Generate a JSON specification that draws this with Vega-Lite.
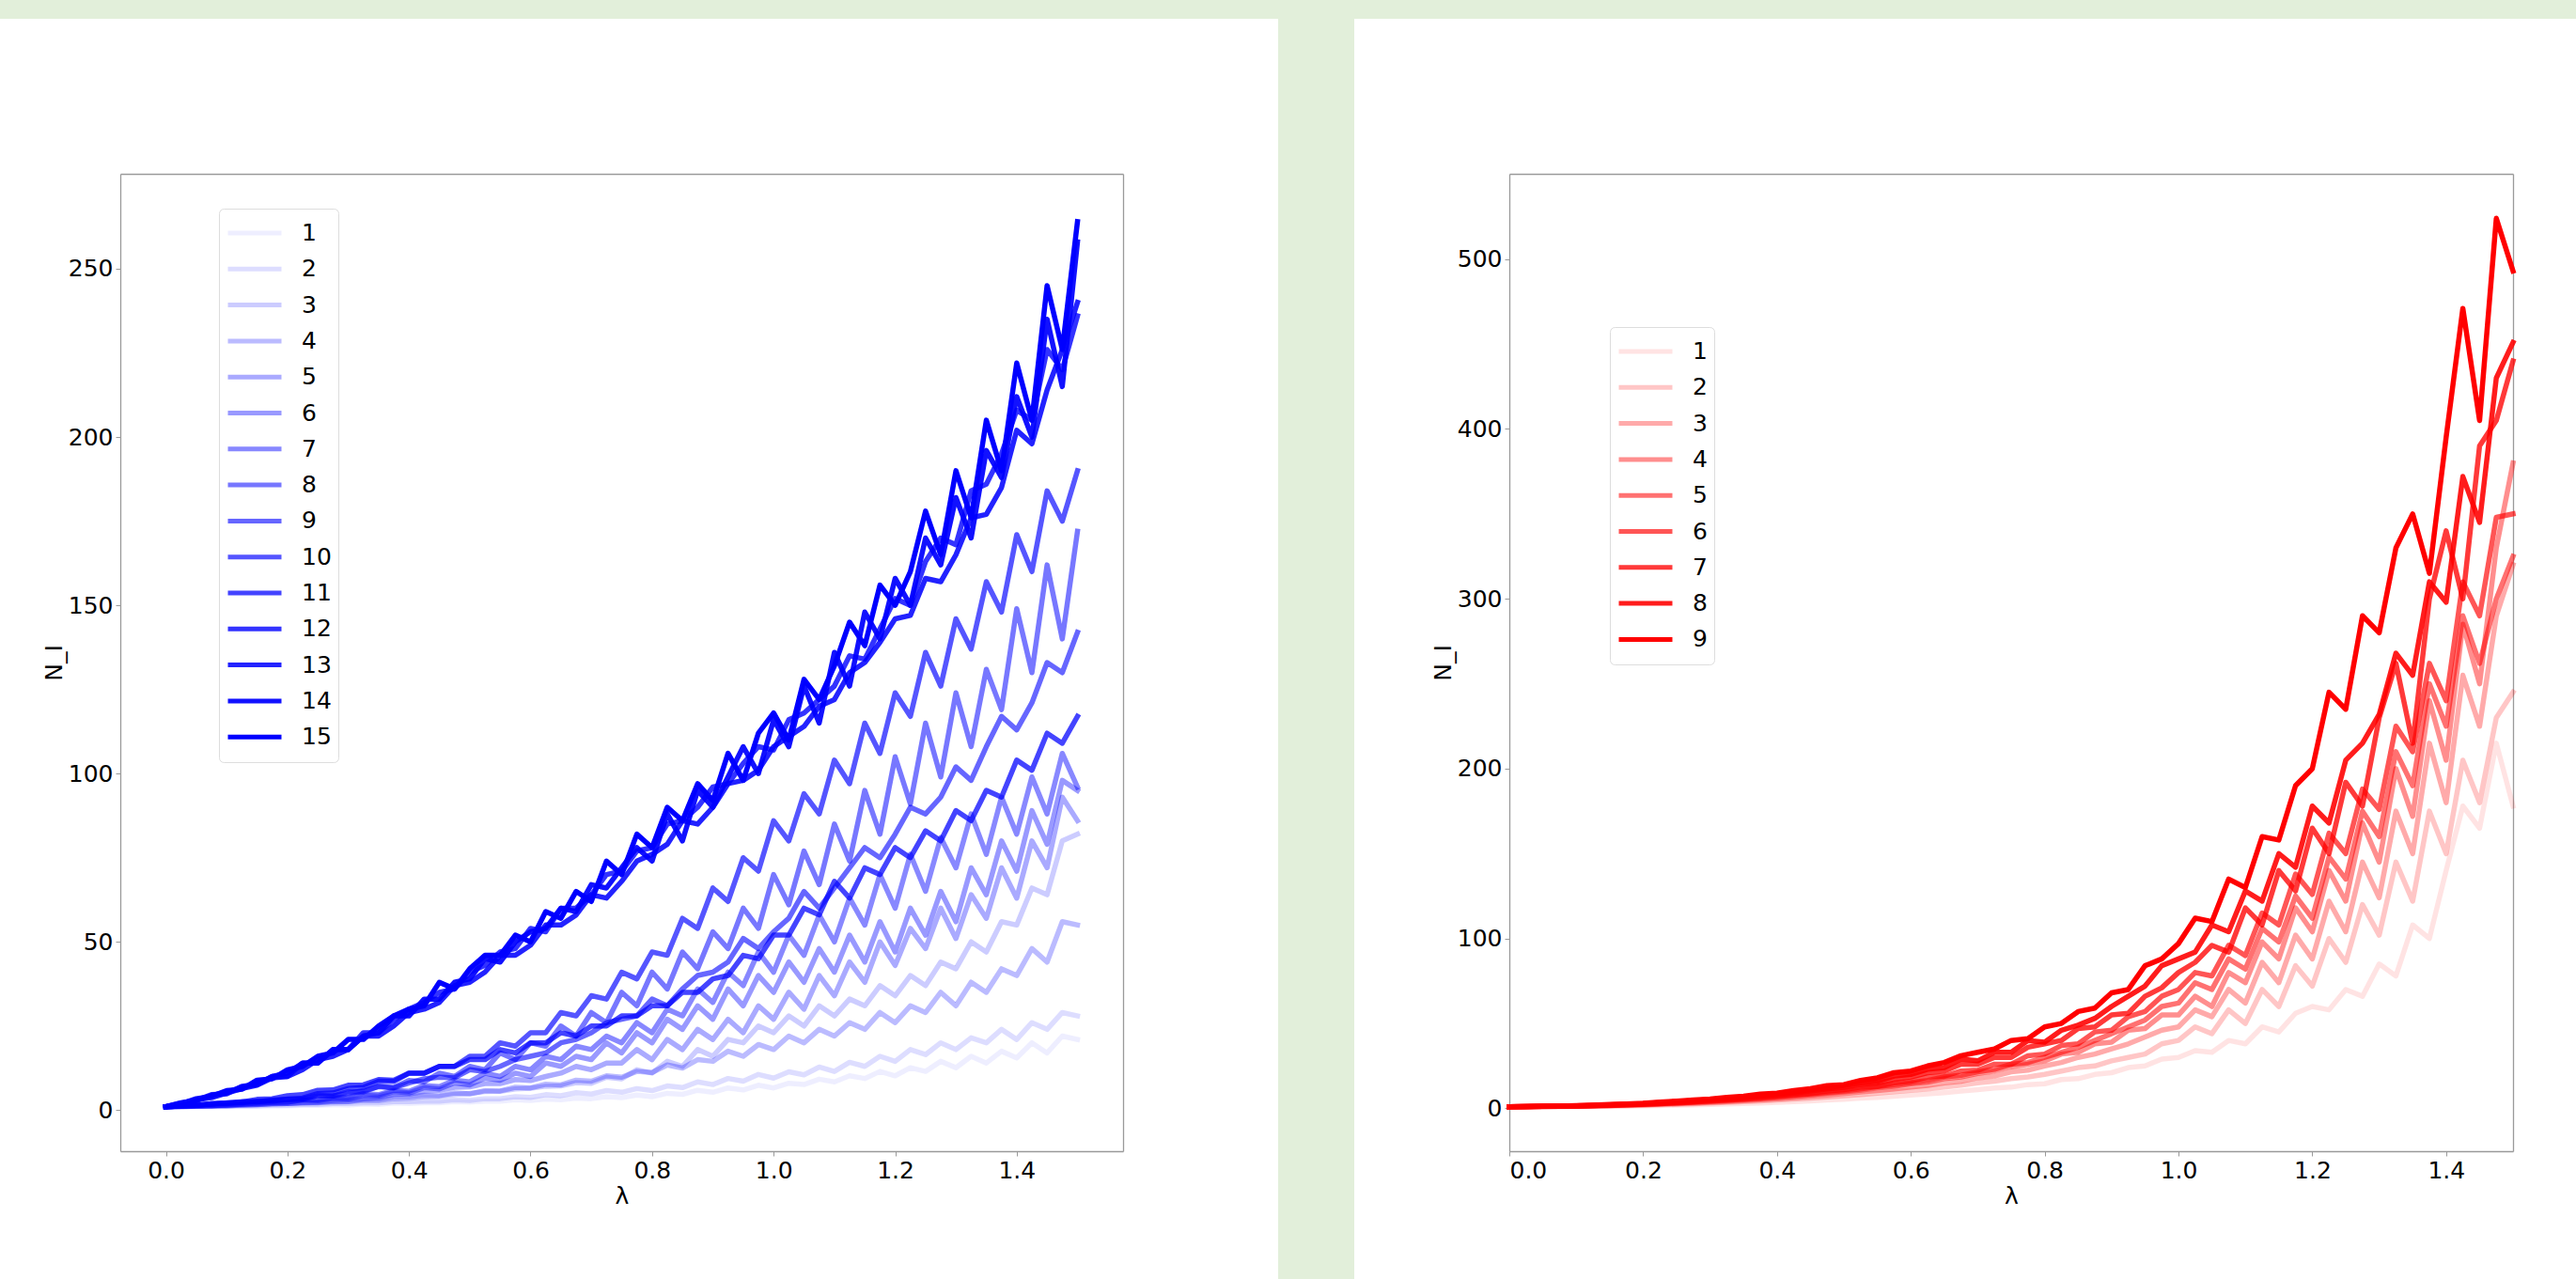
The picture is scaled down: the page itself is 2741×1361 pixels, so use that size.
{
"$schema":"https://vega.github.io/schema/vega-lite/v6.json",
"background":"#e2efda",
"autosize":{"type":"none"},
"padding":{"left":128,"top":185,"right":2613,"bottom":1176},
"spacing":411,
"bounds":"flush",
"config":{
"font":"DejaVu Sans",
"view":{"stroke":"#ffffff","strokeWidth":330,"fill":"#ffffff"},
"axis":{"labelFont":"DejaVu Sans","labelFontSize":25,"labelColor":"#000000","titleFont":"DejaVu Sans","titleFontSize":25,"titleFontWeight":"normal","titleColor":"#000000","domainColor":"#9a9a9a","domainWidth":1.3,"tickColor":"#9a9a9a","tickSize":5,"grid":false,"labelPadding":3,"titlePadding":2}
},
"datasets":{
"left":[
{"r":1,"x":0,"n":1},{"r":1,"x":0.025,"n":1},{"r":1,"x":0.05,"n":1},{"r":1,"x":0.075,"n":1.1},{"r":1,"x":0.1,"n":1.1},{"r":1,"x":0.125,"n":1.1},{"r":1,"x":0.15,"n":1.2},{"r":1,"x":0.175,"n":1.2},{"r":1,"x":0.2,"n":1.3},{"r":1,"x":0.225,"n":1.4},
{"r":1,"x":0.25,"n":1.4},{"r":1,"x":0.275,"n":1.6},{"r":1,"x":0.3,"n":1.5},{"r":1,"x":0.325,"n":1.8},{"r":1,"x":0.35,"n":1.7},{"r":1,"x":0.375,"n":2.1},{"r":1,"x":0.4,"n":2},{"r":1,"x":0.425,"n":2.2},{"r":1,"x":0.45,"n":2.2},{"r":1,"x":0.475,"n":2.5},
{"r":1,"x":0.5,"n":2.4},{"r":1,"x":0.525,"n":2.7},{"r":1,"x":0.55,"n":2.7},{"r":1,"x":0.575,"n":3.1},{"r":1,"x":0.6,"n":2.9},{"r":1,"x":0.625,"n":3.3},{"r":1,"x":0.65,"n":3.1},{"r":1,"x":0.675,"n":3.6},{"r":1,"x":0.7,"n":3.4},{"r":1,"x":0.725,"n":4},
{"r":1,"x":0.75,"n":3.7},{"r":1,"x":0.775,"n":4.5},{"r":1,"x":0.8,"n":4},{"r":1,"x":0.825,"n":5},{"r":1,"x":0.85,"n":4.7},{"r":1,"x":0.875,"n":5.9},{"r":1,"x":0.9,"n":5.3},{"r":1,"x":0.925,"n":6.6},{"r":1,"x":0.95,"n":6},{"r":1,"x":0.975,"n":7.4},
{"r":1,"x":1,"n":6.6},{"r":1,"x":1.025,"n":8},{"r":1,"x":1.05,"n":7.6},{"r":1,"x":1.075,"n":9.2},{"r":1,"x":1.1,"n":8.4},{"r":1,"x":1.125,"n":10.2},{"r":1,"x":1.15,"n":9.4},{"r":1,"x":1.175,"n":11.5},{"r":1,"x":1.2,"n":10.2},{"r":1,"x":1.225,"n":12.6},
{"r":1,"x":1.25,"n":11.5},{"r":1,"x":1.275,"n":14.5},{"r":1,"x":1.3,"n":12.6},{"r":1,"x":1.325,"n":16},{"r":1,"x":1.35,"n":14},{"r":1,"x":1.375,"n":17.5},{"r":1,"x":1.4,"n":15.5},{"r":1,"x":1.425,"n":20},{"r":1,"x":1.45,"n":17},{"r":1,"x":1.475,"n":22},{"r":1,"x":1.5,"n":21},
{"r":2,"x":0,"n":1},{"r":2,"x":0.025,"n":1},{"r":2,"x":0.05,"n":1.1},{"r":2,"x":0.075,"n":1.1},{"r":2,"x":0.1,"n":1.2},{"r":2,"x":0.125,"n":1.3},{"r":2,"x":0.15,"n":1.3},{"r":2,"x":0.175,"n":1.5},{"r":2,"x":0.2,"n":1.5},{"r":2,"x":0.225,"n":1.7},
{"r":2,"x":0.25,"n":1.7},{"r":2,"x":0.275,"n":2},{"r":2,"x":0.3,"n":2},{"r":2,"x":0.325,"n":2.2},{"r":2,"x":0.35,"n":2.2},{"r":2,"x":0.375,"n":2.5},{"r":2,"x":0.4,"n":2.5},{"r":2,"x":0.425,"n":2.7},{"r":2,"x":0.45,"n":2.7},{"r":2,"x":0.475,"n":3.1},
{"r":2,"x":0.5,"n":2.9},{"r":2,"x":0.525,"n":3.4},{"r":2,"x":0.55,"n":3.4},{"r":2,"x":0.575,"n":4},{"r":2,"x":0.6,"n":3.8},{"r":2,"x":0.625,"n":4.6},{"r":2,"x":0.65,"n":4.3},{"r":2,"x":0.675,"n":5.2},{"r":2,"x":0.7,"n":4.8},{"r":2,"x":0.725,"n":5.8},
{"r":2,"x":0.75,"n":5.3},{"r":2,"x":0.775,"n":6.4},{"r":2,"x":0.8,"n":5.8},{"r":2,"x":0.825,"n":7.2},{"r":2,"x":0.85,"n":6.7},{"r":2,"x":0.875,"n":8.4},{"r":2,"x":0.9,"n":7.6},{"r":2,"x":0.925,"n":9.4},{"r":2,"x":0.95,"n":8.6},{"r":2,"x":0.975,"n":10.6},
{"r":2,"x":1,"n":9.5},{"r":2,"x":1.025,"n":11.4},{"r":2,"x":1.05,"n":10.5},{"r":2,"x":1.075,"n":12.8},{"r":2,"x":1.1,"n":11.5},{"r":2,"x":1.125,"n":14.2},{"r":2,"x":1.15,"n":13},{"r":2,"x":1.175,"n":16},{"r":2,"x":1.2,"n":14.5},{"r":2,"x":1.225,"n":18},
{"r":2,"x":1.25,"n":16.5},{"r":2,"x":1.275,"n":20},{"r":2,"x":1.3,"n":18},{"r":2,"x":1.325,"n":21.5},{"r":2,"x":1.35,"n":20},{"r":2,"x":1.375,"n":24},{"r":2,"x":1.4,"n":21},{"r":2,"x":1.425,"n":26},{"r":2,"x":1.45,"n":24},{"r":2,"x":1.475,"n":29},{"r":2,"x":1.5,"n":28},
{"r":3,"x":0,"n":1},{"r":3,"x":0.025,"n":1},{"r":3,"x":0.05,"n":1.2},{"r":3,"x":0.075,"n":1.2},{"r":3,"x":0.1,"n":1.3},{"r":3,"x":0.125,"n":1.5},{"r":3,"x":0.15,"n":1.6},{"r":3,"x":0.175,"n":1.9},{"r":3,"x":0.2,"n":2},{"r":3,"x":0.225,"n":2.1},
{"r":3,"x":0.25,"n":2.3},{"r":3,"x":0.275,"n":2.4},{"r":3,"x":0.3,"n":2.5},{"r":3,"x":0.325,"n":2.9},{"r":3,"x":0.35,"n":2.8},{"r":3,"x":0.375,"n":3.4},{"r":3,"x":0.4,"n":3.5},{"r":3,"x":0.425,"n":4},{"r":3,"x":0.45,"n":4.1},{"r":3,"x":0.475,"n":4.7},
{"r":3,"x":0.5,"n":5},{"r":3,"x":0.525,"n":5.5},{"r":3,"x":0.55,"n":5.6},{"r":3,"x":0.575,"n":6.3},{"r":3,"x":0.6,"n":6.5},{"r":3,"x":0.625,"n":7.1},{"r":3,"x":0.65,"n":7.2},{"r":3,"x":0.675,"n":8.2},{"r":3,"x":0.7,"n":8},{"r":3,"x":0.725,"n":9.8},
{"r":3,"x":0.75,"n":9.3},{"r":3,"x":0.775,"n":12},{"r":3,"x":0.8,"n":11},{"r":3,"x":0.825,"n":14.5},{"r":3,"x":0.85,"n":13},{"r":3,"x":0.875,"n":18},{"r":3,"x":0.9,"n":16},{"r":3,"x":0.925,"n":21},{"r":3,"x":0.95,"n":20},{"r":3,"x":0.975,"n":25},
{"r":3,"x":1,"n":23},{"r":3,"x":1.025,"n":28},{"r":3,"x":1.05,"n":25},{"r":3,"x":1.075,"n":31},{"r":3,"x":1.1,"n":28},{"r":3,"x":1.125,"n":33},{"r":3,"x":1.15,"n":31},{"r":3,"x":1.175,"n":37},{"r":3,"x":1.2,"n":34},{"r":3,"x":1.225,"n":40},
{"r":3,"x":1.25,"n":37},{"r":3,"x":1.275,"n":44},{"r":3,"x":1.3,"n":42},{"r":3,"x":1.325,"n":50},{"r":3,"x":1.35,"n":47},{"r":3,"x":1.375,"n":56},{"r":3,"x":1.4,"n":55},{"r":3,"x":1.425,"n":66},{"r":3,"x":1.45,"n":64},{"r":3,"x":1.475,"n":80},{"r":3,"x":1.5,"n":82},
{"r":4,"x":0,"n":1},{"r":4,"x":0.025,"n":1.1},{"r":4,"x":0.05,"n":1.1},{"r":4,"x":0.075,"n":1.3},{"r":4,"x":0.1,"n":1.3},{"r":4,"x":0.125,"n":1.5},{"r":4,"x":0.15,"n":1.6},{"r":4,"x":0.175,"n":1.9},{"r":4,"x":0.2,"n":2},{"r":4,"x":0.225,"n":2.2},
{"r":4,"x":0.25,"n":2.2},{"r":4,"x":0.275,"n":2.6},{"r":4,"x":0.3,"n":2.5},{"r":4,"x":0.325,"n":3.2},{"r":4,"x":0.35,"n":3.2},{"r":4,"x":0.375,"n":4},{"r":4,"x":0.4,"n":4},{"r":4,"x":0.425,"n":4.4},{"r":4,"x":0.45,"n":4.3},{"r":4,"x":0.475,"n":5.1},
{"r":4,"x":0.5,"n":4.8},{"r":4,"x":0.525,"n":5.8},{"r":4,"x":0.55,"n":5.7},{"r":4,"x":0.575,"n":6.8},{"r":4,"x":0.6,"n":6.6},{"r":4,"x":0.625,"n":7.7},{"r":4,"x":0.65,"n":7.5},{"r":4,"x":0.675,"n":8.9},{"r":4,"x":0.7,"n":8.6},{"r":4,"x":0.725,"n":10.2},
{"r":4,"x":0.75,"n":9.8},{"r":4,"x":0.775,"n":11.5},{"r":4,"x":0.8,"n":11.2},{"r":4,"x":0.825,"n":13.4},{"r":4,"x":0.85,"n":12.5},{"r":4,"x":0.875,"n":15},{"r":4,"x":0.9,"n":14.5},{"r":4,"x":0.925,"n":17.5},{"r":4,"x":0.95,"n":16},{"r":4,"x":0.975,"n":19.5},
{"r":4,"x":1,"n":18},{"r":4,"x":1.025,"n":22},{"r":4,"x":1.05,"n":20},{"r":4,"x":1.075,"n":24},{"r":4,"x":1.1,"n":22},{"r":4,"x":1.125,"n":26},{"r":4,"x":1.15,"n":24},{"r":4,"x":1.175,"n":29},{"r":4,"x":1.2,"n":26},{"r":4,"x":1.225,"n":31},
{"r":4,"x":1.25,"n":29},{"r":4,"x":1.275,"n":35},{"r":4,"x":1.3,"n":31},{"r":4,"x":1.325,"n":38},{"r":4,"x":1.35,"n":35},{"r":4,"x":1.375,"n":42},{"r":4,"x":1.4,"n":40},{"r":4,"x":1.425,"n":48},{"r":4,"x":1.45,"n":44},{"r":4,"x":1.475,"n":56},{"r":4,"x":1.5,"n":55},
{"r":5,"x":0,"n":1},{"r":5,"x":0.025,"n":1.1},{"r":5,"x":0.05,"n":1.2},{"r":5,"x":0.075,"n":1.3},{"r":5,"x":0.1,"n":1.5},{"r":5,"x":0.125,"n":1.6},{"r":5,"x":0.15,"n":1.7},{"r":5,"x":0.175,"n":1.9},{"r":5,"x":0.2,"n":2},{"r":5,"x":0.225,"n":2.3},
{"r":5,"x":0.25,"n":2.4},{"r":5,"x":0.275,"n":2.9},{"r":5,"x":0.3,"n":3.1},{"r":5,"x":0.325,"n":3.4},{"r":5,"x":0.35,"n":3.7},{"r":5,"x":0.375,"n":4.7},{"r":5,"x":0.4,"n":4.8},{"r":5,"x":0.425,"n":5.6},{"r":5,"x":0.45,"n":5.9},{"r":5,"x":0.475,"n":6.8},
{"r":5,"x":0.5,"n":6.9},{"r":5,"x":0.525,"n":7.9},{"r":5,"x":0.55,"n":7.9},{"r":5,"x":0.575,"n":9.1},{"r":5,"x":0.6,"n":8.8},{"r":5,"x":0.625,"n":10},{"r":5,"x":0.65,"n":11},{"r":5,"x":0.675,"n":13},{"r":5,"x":0.7,"n":12},{"r":5,"x":0.725,"n":14},
{"r":5,"x":0.75,"n":14},{"r":5,"x":0.775,"n":18},{"r":5,"x":0.8,"n":15},{"r":5,"x":0.825,"n":21},{"r":5,"x":0.85,"n":18},{"r":5,"x":0.875,"n":24},{"r":5,"x":0.9,"n":21},{"r":5,"x":0.925,"n":27},{"r":5,"x":0.95,"n":23},{"r":5,"x":0.975,"n":31},
{"r":5,"x":1,"n":27},{"r":5,"x":1.025,"n":35},{"r":5,"x":1.05,"n":30},{"r":5,"x":1.075,"n":40},{"r":5,"x":1.1,"n":34},{"r":5,"x":1.125,"n":44},{"r":5,"x":1.15,"n":38},{"r":5,"x":1.175,"n":50},{"r":5,"x":1.2,"n":43},{"r":5,"x":1.225,"n":54},
{"r":5,"x":1.25,"n":48},{"r":5,"x":1.275,"n":60},{"r":5,"x":1.3,"n":51},{"r":5,"x":1.325,"n":64},{"r":5,"x":1.35,"n":57},{"r":5,"x":1.375,"n":72},{"r":5,"x":1.4,"n":63},{"r":5,"x":1.425,"n":80},{"r":5,"x":1.45,"n":72},{"r":5,"x":1.475,"n":93},{"r":5,"x":1.5,"n":86},
{"r":6,"x":0,"n":1},{"r":6,"x":0.025,"n":1.2},{"r":6,"x":0.05,"n":1.2},{"r":6,"x":0.075,"n":1.5},{"r":6,"x":0.1,"n":1.4},{"r":6,"x":0.125,"n":1.9},{"r":6,"x":0.15,"n":1.9},{"r":6,"x":0.175,"n":2.4},{"r":6,"x":0.2,"n":2.4},{"r":6,"x":0.225,"n":3},
{"r":6,"x":0.25,"n":2.8},{"r":6,"x":0.275,"n":3.5},{"r":6,"x":0.3,"n":3.3},{"r":6,"x":0.325,"n":4.4},{"r":6,"x":0.35,"n":4.2},{"r":6,"x":0.375,"n":5.5},{"r":6,"x":0.4,"n":5.1},{"r":6,"x":0.425,"n":6.7},{"r":6,"x":0.45,"n":6.3},{"r":6,"x":0.475,"n":8.1},
{"r":6,"x":0.5,"n":7.5},{"r":6,"x":0.525,"n":9.6},{"r":6,"x":0.55,"n":8.9},{"r":6,"x":0.575,"n":11},{"r":6,"x":0.6,"n":10},{"r":6,"x":0.625,"n":14},{"r":6,"x":0.65,"n":13},{"r":6,"x":0.675,"n":16},{"r":6,"x":0.7,"n":15},{"r":6,"x":0.725,"n":20},
{"r":6,"x":0.75,"n":17},{"r":6,"x":0.775,"n":23},{"r":6,"x":0.8,"n":20},{"r":6,"x":0.825,"n":27},{"r":6,"x":0.85,"n":24},{"r":6,"x":0.875,"n":31},{"r":6,"x":0.9,"n":27},{"r":6,"x":0.925,"n":36},{"r":6,"x":0.95,"n":31},{"r":6,"x":0.975,"n":40},
{"r":6,"x":1,"n":35},{"r":6,"x":1.025,"n":44},{"r":6,"x":1.05,"n":38},{"r":6,"x":1.075,"n":48},{"r":6,"x":1.1,"n":41},{"r":6,"x":1.125,"n":52},{"r":6,"x":1.15,"n":44},{"r":6,"x":1.175,"n":56},{"r":6,"x":1.2,"n":47},{"r":6,"x":1.225,"n":60},
{"r":6,"x":1.25,"n":52},{"r":6,"x":1.275,"n":65},{"r":6,"x":1.3,"n":56},{"r":6,"x":1.325,"n":72},{"r":6,"x":1.35,"n":64},{"r":6,"x":1.375,"n":80},{"r":6,"x":1.4,"n":71},{"r":6,"x":1.425,"n":89},{"r":6,"x":1.45,"n":79},{"r":6,"x":1.475,"n":98},{"r":6,"x":1.5,"n":95},
{"r":7,"x":0,"n":1},{"r":7,"x":0.025,"n":1.1},{"r":7,"x":0.05,"n":1.3},{"r":7,"x":0.075,"n":1.3},{"r":7,"x":0.1,"n":1.6},{"r":7,"x":0.125,"n":1.7},{"r":7,"x":0.15,"n":2.1},{"r":7,"x":0.175,"n":2.2},{"r":7,"x":0.2,"n":2.4},{"r":7,"x":0.225,"n":3.1},
{"r":7,"x":0.25,"n":3.1},{"r":7,"x":0.275,"n":3.8},{"r":7,"x":0.3,"n":3.8},{"r":7,"x":0.325,"n":4.9},{"r":7,"x":0.35,"n":4.6},{"r":7,"x":0.375,"n":5.9},{"r":7,"x":0.4,"n":5.6},{"r":7,"x":0.425,"n":7.3},{"r":7,"x":0.45,"n":7},{"r":7,"x":0.475,"n":8.9},
{"r":7,"x":0.5,"n":8.4},{"r":7,"x":0.525,"n":11},{"r":7,"x":0.55,"n":10},{"r":7,"x":0.575,"n":13},{"r":7,"x":0.6,"n":12},{"r":7,"x":0.625,"n":16},{"r":7,"x":0.65,"n":15},{"r":7,"x":0.675,"n":19},{"r":7,"x":0.7,"n":18},{"r":7,"x":0.725,"n":22},
{"r":7,"x":0.75,"n":20},{"r":7,"x":0.775,"n":26},{"r":7,"x":0.8,"n":23},{"r":7,"x":0.825,"n":30},{"r":7,"x":0.85,"n":28},{"r":7,"x":0.875,"n":36},{"r":7,"x":0.9,"n":32},{"r":7,"x":0.925,"n":41},{"r":7,"x":0.95,"n":37},{"r":7,"x":0.975,"n":47},
{"r":7,"x":1,"n":41},{"r":7,"x":1.025,"n":52},{"r":7,"x":1.05,"n":46},{"r":7,"x":1.075,"n":58},{"r":7,"x":1.1,"n":50},{"r":7,"x":1.125,"n":63},{"r":7,"x":1.15,"n":55},{"r":7,"x":1.175,"n":70},{"r":7,"x":1.2,"n":60},{"r":7,"x":1.225,"n":76},
{"r":7,"x":1.25,"n":65},{"r":7,"x":1.275,"n":81},{"r":7,"x":1.3,"n":72},{"r":7,"x":1.325,"n":88},{"r":7,"x":1.35,"n":76},{"r":7,"x":1.375,"n":93},{"r":7,"x":1.4,"n":82},{"r":7,"x":1.425,"n":99},{"r":7,"x":1.45,"n":88},{"r":7,"x":1.475,"n":106},{"r":7,"x":1.5,"n":96},
{"r":8,"x":0,"n":1},{"r":8,"x":0.025,"n":1.3},{"r":8,"x":0.05,"n":1.4},{"r":8,"x":0.075,"n":1.9},{"r":8,"x":0.1,"n":1.9},{"r":8,"x":0.125,"n":2.4},{"r":8,"x":0.15,"n":2.6},{"r":8,"x":0.175,"n":2.6},{"r":8,"x":0.2,"n":3.3},{"r":8,"x":0.225,"n":3.2},
{"r":8,"x":0.25,"n":4.4},{"r":8,"x":0.275,"n":4.2},{"r":8,"x":0.3,"n":5.5},{"r":8,"x":0.325,"n":5.4},{"r":8,"x":0.35,"n":7.1},{"r":8,"x":0.375,"n":6.7},{"r":8,"x":0.4,"n":8.8},{"r":8,"x":0.425,"n":8.4},{"r":8,"x":0.45,"n":11},{"r":8,"x":0.475,"n":10},
{"r":8,"x":0.5,"n":13},{"r":8,"x":0.525,"n":12},{"r":8,"x":0.55,"n":17},{"r":8,"x":0.575,"n":15},{"r":8,"x":0.6,"n":20},{"r":8,"x":0.625,"n":19},{"r":8,"x":0.65,"n":25},{"r":8,"x":0.675,"n":22},{"r":8,"x":0.7,"n":29},{"r":8,"x":0.725,"n":26},
{"r":8,"x":0.75,"n":35},{"r":8,"x":0.775,"n":31},{"r":8,"x":0.8,"n":41},{"r":8,"x":0.825,"n":36},{"r":8,"x":0.85,"n":47},{"r":8,"x":0.875,"n":42},{"r":8,"x":0.9,"n":53},{"r":8,"x":0.925,"n":48},{"r":8,"x":0.95,"n":60},{"r":8,"x":0.975,"n":54},
{"r":8,"x":1,"n":70},{"r":8,"x":1.025,"n":61},{"r":8,"x":1.05,"n":77},{"r":8,"x":1.075,"n":67},{"r":8,"x":1.1,"n":85},{"r":8,"x":1.125,"n":74},{"r":8,"x":1.15,"n":95},{"r":8,"x":1.175,"n":82},{"r":8,"x":1.2,"n":105},{"r":8,"x":1.225,"n":91},
{"r":8,"x":1.25,"n":115},{"r":8,"x":1.275,"n":99},{"r":8,"x":1.3,"n":124},{"r":8,"x":1.325,"n":108},{"r":8,"x":1.35,"n":131},{"r":8,"x":1.375,"n":119},{"r":8,"x":1.4,"n":149},{"r":8,"x":1.425,"n":130},{"r":8,"x":1.45,"n":162},{"r":8,"x":1.475,"n":140},{"r":8,"x":1.5,"n":172},
{"r":9,"x":0,"n":1},{"r":9,"x":0.025,"n":1.2},{"r":9,"x":0.05,"n":1.6},{"r":9,"x":0.075,"n":1.7},{"r":9,"x":0.1,"n":2.2},{"r":9,"x":0.125,"n":2.1},{"r":9,"x":0.15,"n":2.7},{"r":9,"x":0.175,"n":2.9},{"r":9,"x":0.2,"n":3.1},{"r":9,"x":0.225,"n":3.3},
{"r":9,"x":0.25,"n":4.3},{"r":9,"x":0.275,"n":4.2},{"r":9,"x":0.3,"n":4.9},{"r":9,"x":0.325,"n":5.8},{"r":9,"x":0.35,"n":7},{"r":9,"x":0.375,"n":6.6},{"r":9,"x":0.4,"n":8.1},{"r":9,"x":0.425,"n":9.3},{"r":9,"x":0.45,"n":9.8},{"r":9,"x":0.475,"n":9.6},
{"r":9,"x":0.5,"n":12},{"r":9,"x":0.525,"n":11.5},{"r":9,"x":0.55,"n":13},{"r":9,"x":0.575,"n":15},{"r":9,"x":0.6,"n":16},{"r":9,"x":0.625,"n":17},{"r":9,"x":0.65,"n":20},{"r":9,"x":0.675,"n":21},{"r":9,"x":0.7,"n":23},{"r":9,"x":0.725,"n":26},
{"r":9,"x":0.75,"n":27},{"r":9,"x":0.775,"n":28},{"r":9,"x":0.8,"n":33},{"r":9,"x":0.825,"n":31},{"r":9,"x":0.85,"n":36},{"r":9,"x":0.875,"n":40},{"r":9,"x":0.9,"n":41},{"r":9,"x":0.925,"n":44},{"r":9,"x":0.95,"n":51},{"r":9,"x":0.975,"n":48},
{"r":9,"x":1,"n":53},{"r":9,"x":1.025,"n":57},{"r":9,"x":1.05,"n":65},{"r":9,"x":1.075,"n":60},{"r":9,"x":1.1,"n":66},{"r":9,"x":1.125,"n":72},{"r":9,"x":1.15,"n":78},{"r":9,"x":1.175,"n":75},{"r":9,"x":1.2,"n":82},{"r":9,"x":1.225,"n":90},
{"r":9,"x":1.25,"n":88},{"r":9,"x":1.275,"n":93},{"r":9,"x":1.3,"n":102},{"r":9,"x":1.325,"n":98},{"r":9,"x":1.35,"n":108},{"r":9,"x":1.375,"n":117},{"r":9,"x":1.4,"n":113},{"r":9,"x":1.425,"n":121},{"r":9,"x":1.45,"n":133},{"r":9,"x":1.475,"n":130},{"r":9,"x":1.5,"n":142},
{"r":10,"x":0,"n":1},{"r":10,"x":0.025,"n":1.3},{"r":10,"x":0.05,"n":1.4},{"r":10,"x":0.075,"n":1.9},{"r":10,"x":0.1,"n":2.1},{"r":10,"x":0.125,"n":2.5},{"r":10,"x":0.15,"n":2.4},{"r":10,"x":0.175,"n":3},{"r":10,"x":0.2,"n":3.2},{"r":10,"x":0.225,"n":3.6},
{"r":10,"x":0.25,"n":4.9},{"r":10,"x":0.275,"n":5.1},{"r":10,"x":0.3,"n":6.4},{"r":10,"x":0.325,"n":6.8},{"r":10,"x":0.35,"n":8.6},{"r":10,"x":0.375,"n":8.5},{"r":10,"x":0.4,"n":11},{"r":10,"x":0.425,"n":11},{"r":10,"x":0.45,"n":13},{"r":10,"x":0.475,"n":13},
{"r":10,"x":0.5,"n":16},{"r":10,"x":0.525,"n":16},{"r":10,"x":0.55,"n":20},{"r":10,"x":0.575,"n":19},{"r":10,"x":0.6,"n":23},{"r":10,"x":0.625,"n":23},{"r":10,"x":0.65,"n":29},{"r":10,"x":0.675,"n":28},{"r":10,"x":0.7,"n":34},{"r":10,"x":0.725,"n":33},
{"r":10,"x":0.75,"n":41},{"r":10,"x":0.775,"n":39},{"r":10,"x":0.8,"n":47},{"r":10,"x":0.825,"n":46},{"r":10,"x":0.85,"n":57},{"r":10,"x":0.875,"n":54},{"r":10,"x":0.9,"n":66},{"r":10,"x":0.925,"n":62},{"r":10,"x":0.95,"n":75},{"r":10,"x":0.975,"n":71},
{"r":10,"x":1,"n":86},{"r":10,"x":1.025,"n":80},{"r":10,"x":1.05,"n":94},{"r":10,"x":1.075,"n":88},{"r":10,"x":1.1,"n":104},{"r":10,"x":1.125,"n":97},{"r":10,"x":1.15,"n":115},{"r":10,"x":1.175,"n":106},{"r":10,"x":1.2,"n":124},{"r":10,"x":1.225,"n":117},
{"r":10,"x":1.25,"n":136},{"r":10,"x":1.275,"n":126},{"r":10,"x":1.3,"n":146},{"r":10,"x":1.325,"n":137},{"r":10,"x":1.35,"n":157},{"r":10,"x":1.375,"n":148},{"r":10,"x":1.4,"n":171},{"r":10,"x":1.425,"n":160},{"r":10,"x":1.45,"n":184},{"r":10,"x":1.475,"n":175},{"r":10,"x":1.5,"n":190},
{"r":11,"x":0,"n":1},{"r":11,"x":0.025,"n":1.3},{"r":11,"x":0.05,"n":1.4},{"r":11,"x":0.075,"n":1.9},{"r":11,"x":0.1,"n":2.1},{"r":11,"x":0.125,"n":2.4},{"r":11,"x":0.15,"n":3.2},{"r":11,"x":0.175,"n":3.4},{"r":11,"x":0.2,"n":4.3},{"r":11,"x":0.225,"n":4.6},
{"r":11,"x":0.25,"n":5.9},{"r":11,"x":0.275,"n":6},{"r":11,"x":0.3,"n":7.4},{"r":11,"x":0.325,"n":7.5},{"r":11,"x":0.35,"n":9.1},{"r":11,"x":0.375,"n":8.9},{"r":11,"x":0.4,"n":11},{"r":11,"x":0.425,"n":11},{"r":11,"x":0.45,"n":13},{"r":11,"x":0.475,"n":13},
{"r":11,"x":0.5,"n":15},{"r":11,"x":0.525,"n":15},{"r":11,"x":0.55,"n":18},{"r":11,"x":0.575,"n":17},{"r":11,"x":0.6,"n":20},{"r":11,"x":0.625,"n":20},{"r":11,"x":0.65,"n":23},{"r":11,"x":0.675,"n":22},{"r":11,"x":0.7,"n":25},{"r":11,"x":0.725,"n":25},
{"r":11,"x":0.75,"n":28},{"r":11,"x":0.775,"n":28},{"r":11,"x":0.8,"n":31},{"r":11,"x":0.825,"n":31},{"r":11,"x":0.85,"n":35},{"r":11,"x":0.875,"n":35},{"r":11,"x":0.9,"n":39},{"r":11,"x":0.925,"n":40},{"r":11,"x":0.95,"n":46},{"r":11,"x":0.975,"n":45},
{"r":11,"x":1,"n":52},{"r":11,"x":1.025,"n":52},{"r":11,"x":1.05,"n":60},{"r":11,"x":1.075,"n":58},{"r":11,"x":1.1,"n":68},{"r":11,"x":1.125,"n":63},{"r":11,"x":1.15,"n":72},{"r":11,"x":1.175,"n":70},{"r":11,"x":1.2,"n":78},{"r":11,"x":1.225,"n":75},
{"r":11,"x":1.25,"n":83},{"r":11,"x":1.275,"n":80},{"r":11,"x":1.3,"n":89},{"r":11,"x":1.325,"n":86},{"r":11,"x":1.35,"n":95},{"r":11,"x":1.375,"n":93},{"r":11,"x":1.4,"n":104},{"r":11,"x":1.425,"n":101},{"r":11,"x":1.45,"n":112},{"r":11,"x":1.475,"n":109},{"r":11,"x":1.5,"n":117},
{"r":12,"x":0,"n":1},{"r":12,"x":0.025,"n":2.2},{"r":12,"x":0.05,"n":2.9},{"r":12,"x":0.075,"n":4.6},{"r":12,"x":0.1,"n":4.8},{"r":12,"x":0.125,"n":7.1},{"r":12,"x":0.15,"n":7.7},{"r":12,"x":0.175,"n":10},{"r":12,"x":0.2,"n":10},{"r":12,"x":0.225,"n":14},
{"r":12,"x":0.25,"n":14},{"r":12,"x":0.275,"n":18},{"r":12,"x":0.3,"n":18},{"r":12,"x":0.325,"n":23},{"r":12,"x":0.35,"n":23},{"r":12,"x":0.375,"n":27},{"r":12,"x":0.4,"n":30},{"r":12,"x":0.425,"n":32},{"r":12,"x":0.45,"n":35},{"r":12,"x":0.475,"n":36},
{"r":12,"x":0.5,"n":41},{"r":12,"x":0.525,"n":43},{"r":12,"x":0.55,"n":47},{"r":12,"x":0.575,"n":48},{"r":12,"x":0.6,"n":54},{"r":12,"x":0.625,"n":53},{"r":12,"x":0.65,"n":60},{"r":12,"x":0.675,"n":60},{"r":12,"x":0.7,"n":64},{"r":12,"x":0.725,"n":70},
{"r":12,"x":0.75,"n":71},{"r":12,"x":0.775,"n":77},{"r":12,"x":0.8,"n":78},{"r":12,"x":0.825,"n":85},{"r":12,"x":0.85,"n":86},{"r":12,"x":0.875,"n":90},{"r":12,"x":0.9,"n":96},{"r":12,"x":0.925,"n":97},{"r":12,"x":0.95,"n":103},{"r":12,"x":0.975,"n":108},
{"r":12,"x":1,"n":107},{"r":12,"x":1.025,"n":116},{"r":12,"x":1.05,"n":118},{"r":12,"x":1.075,"n":122},{"r":12,"x":1.1,"n":126},{"r":12,"x":1.125,"n":135},{"r":12,"x":1.15,"n":134},{"r":12,"x":1.175,"n":143},{"r":12,"x":1.2,"n":152},{"r":12,"x":1.225,"n":150},
{"r":12,"x":1.25,"n":163},{"r":12,"x":1.275,"n":170},{"r":12,"x":1.3,"n":168},{"r":12,"x":1.325,"n":184},{"r":12,"x":1.35,"n":186},{"r":12,"x":1.375,"n":195},{"r":12,"x":1.4,"n":208},{"r":12,"x":1.425,"n":205},{"r":12,"x":1.45,"n":226},{"r":12,"x":1.475,"n":220},{"r":12,"x":1.5,"n":236},
{"r":13,"x":0,"n":1},{"r":13,"x":0.025,"n":1.8},{"r":13,"x":0.05,"n":3.1},{"r":13,"x":0.075,"n":3.7},{"r":13,"x":0.1,"n":5.1},{"r":13,"x":0.125,"n":6.4},{"r":13,"x":0.15,"n":7.4},{"r":13,"x":0.175,"n":9.6},{"r":13,"x":0.2,"n":10},{"r":13,"x":0.225,"n":12},
{"r":13,"x":0.25,"n":15},{"r":13,"x":0.275,"n":16},{"r":13,"x":0.3,"n":18},{"r":13,"x":0.325,"n":22},{"r":13,"x":0.35,"n":22},{"r":13,"x":0.375,"n":25},{"r":13,"x":0.4,"n":29},{"r":13,"x":0.425,"n":30},{"r":13,"x":0.45,"n":32},{"r":13,"x":0.475,"n":37},
{"r":13,"x":0.5,"n":38},{"r":13,"x":0.525,"n":41},{"r":13,"x":0.55,"n":46},{"r":13,"x":0.575,"n":46},{"r":13,"x":0.6,"n":49},{"r":13,"x":0.625,"n":55},{"r":13,"x":0.65,"n":55},{"r":13,"x":0.675,"n":58},{"r":13,"x":0.7,"n":64},{"r":13,"x":0.725,"n":63},
{"r":13,"x":0.75,"n":68},{"r":13,"x":0.775,"n":74},{"r":13,"x":0.8,"n":76},{"r":13,"x":0.825,"n":79},{"r":13,"x":0.85,"n":86},{"r":13,"x":0.875,"n":85},{"r":13,"x":0.9,"n":90},{"r":13,"x":0.925,"n":97},{"r":13,"x":0.95,"n":98},{"r":13,"x":0.975,"n":101},
{"r":13,"x":1,"n":108},{"r":13,"x":1.025,"n":111},{"r":13,"x":1.05,"n":114},{"r":13,"x":1.075,"n":120},{"r":13,"x":1.1,"n":122},{"r":13,"x":1.125,"n":130},{"r":13,"x":1.15,"n":133},{"r":13,"x":1.175,"n":139},{"r":13,"x":1.2,"n":146},{"r":13,"x":1.225,"n":147},
{"r":13,"x":1.25,"n":158},{"r":13,"x":1.275,"n":157},{"r":13,"x":1.3,"n":165},{"r":13,"x":1.325,"n":176},{"r":13,"x":1.35,"n":177},{"r":13,"x":1.375,"n":185},{"r":13,"x":1.4,"n":202},{"r":13,"x":1.425,"n":198},{"r":13,"x":1.45,"n":214},{"r":13,"x":1.475,"n":226},{"r":13,"x":1.5,"n":240},
{"r":14,"x":0,"n":1},{"r":14,"x":0.025,"n":2.1},{"r":14,"x":0.05,"n":2.8},{"r":14,"x":0.075,"n":4.4},{"r":14,"x":0.1,"n":5.2},{"r":14,"x":0.125,"n":6.9},{"r":14,"x":0.15,"n":7.6},{"r":14,"x":0.175,"n":10},{"r":14,"x":0.2,"n":11},{"r":14,"x":0.225,"n":14},
{"r":14,"x":0.25,"n":14},{"r":14,"x":0.275,"n":18},{"r":14,"x":0.3,"n":18},{"r":14,"x":0.325,"n":22},{"r":14,"x":0.35,"n":23},{"r":14,"x":0.375,"n":28},{"r":14,"x":0.4,"n":28},{"r":14,"x":0.425,"n":33},{"r":14,"x":0.45,"n":33},{"r":14,"x":0.475,"n":38},
{"r":14,"x":0.5,"n":39},{"r":14,"x":0.525,"n":45},{"r":14,"x":0.55,"n":44},{"r":14,"x":0.575,"n":50},{"r":14,"x":0.6,"n":53},{"r":14,"x":0.625,"n":54},{"r":14,"x":0.65,"n":60},{"r":14,"x":0.675,"n":59},{"r":14,"x":0.7,"n":67},{"r":14,"x":0.725,"n":66},
{"r":14,"x":0.75,"n":72},{"r":14,"x":0.775,"n":78},{"r":14,"x":0.8,"n":74},{"r":14,"x":0.825,"n":88},{"r":14,"x":0.85,"n":80},{"r":14,"x":0.875,"n":95},{"r":14,"x":0.9,"n":90},{"r":14,"x":0.925,"n":99},{"r":14,"x":0.95,"n":108},{"r":14,"x":0.975,"n":100},
{"r":14,"x":1,"n":116},{"r":14,"x":1.025,"n":108},{"r":14,"x":1.05,"n":126},{"r":14,"x":1.075,"n":115},{"r":14,"x":1.1,"n":136},{"r":14,"x":1.125,"n":126},{"r":14,"x":1.15,"n":148},{"r":14,"x":1.175,"n":140},{"r":14,"x":1.2,"n":158},{"r":14,"x":1.225,"n":150},
{"r":14,"x":1.25,"n":170},{"r":14,"x":1.275,"n":162},{"r":14,"x":1.3,"n":182},{"r":14,"x":1.325,"n":170},{"r":14,"x":1.35,"n":196},{"r":14,"x":1.375,"n":188},{"r":14,"x":1.4,"n":212},{"r":14,"x":1.425,"n":200},{"r":14,"x":1.45,"n":235},{"r":14,"x":1.475,"n":215},{"r":14,"x":1.5,"n":258},
{"r":15,"x":0,"n":1},{"r":15,"x":0.025,"n":1.9},{"r":15,"x":0.05,"n":3.4},{"r":15,"x":0.075,"n":4.1},{"r":15,"x":0.1,"n":5.8},{"r":15,"x":0.125,"n":6.2},{"r":15,"x":0.15,"n":8.9},{"r":15,"x":0.175,"n":9.3},{"r":15,"x":0.2,"n":12},{"r":15,"x":0.225,"n":13},
{"r":15,"x":0.25,"n":16},{"r":15,"x":0.275,"n":17},{"r":15,"x":0.3,"n":21},{"r":15,"x":0.325,"n":21},{"r":15,"x":0.35,"n":25},{"r":15,"x":0.375,"n":28},{"r":15,"x":0.4,"n":30},{"r":15,"x":0.425,"n":31},{"r":15,"x":0.45,"n":38},{"r":15,"x":0.475,"n":36},
{"r":15,"x":0.5,"n":42},{"r":15,"x":0.525,"n":46},{"r":15,"x":0.55,"n":46},{"r":15,"x":0.575,"n":52},{"r":15,"x":0.6,"n":50},{"r":15,"x":0.625,"n":59},{"r":15,"x":0.65,"n":57},{"r":15,"x":0.675,"n":65},{"r":15,"x":0.7,"n":62},{"r":15,"x":0.725,"n":74},
{"r":15,"x":0.75,"n":70},{"r":15,"x":0.775,"n":82},{"r":15,"x":0.8,"n":78},{"r":15,"x":0.825,"n":90},{"r":15,"x":0.85,"n":86},{"r":15,"x":0.875,"n":97},{"r":15,"x":0.9,"n":92},{"r":15,"x":0.925,"n":106},{"r":15,"x":0.95,"n":98},{"r":15,"x":0.975,"n":112},
{"r":15,"x":1,"n":118},{"r":15,"x":1.025,"n":110},{"r":15,"x":1.05,"n":128},{"r":15,"x":1.075,"n":122},{"r":15,"x":1.1,"n":132},{"r":15,"x":1.125,"n":145},{"r":15,"x":1.15,"n":138},{"r":15,"x":1.175,"n":156},{"r":15,"x":1.2,"n":150},{"r":15,"x":1.225,"n":160},
{"r":15,"x":1.25,"n":178},{"r":15,"x":1.275,"n":165},{"r":15,"x":1.3,"n":190},{"r":15,"x":1.325,"n":176},{"r":15,"x":1.35,"n":205},{"r":15,"x":1.375,"n":190},{"r":15,"x":1.4,"n":222},{"r":15,"x":1.425,"n":205},{"r":15,"x":1.45,"n":245},{"r":15,"x":1.475,"n":226},{"r":15,"x":1.5,"n":264}
],
"right":[
{"r":1,"x":0,"n":1},{"r":1,"x":0.025,"n":1},{"r":1,"x":0.05,"n":1},{"r":1,"x":0.075,"n":1.1},{"r":1,"x":0.1,"n":1.1},{"r":1,"x":0.125,"n":1.2},{"r":1,"x":0.15,"n":1.3},{"r":1,"x":0.175,"n":1.4},{"r":1,"x":0.2,"n":1.5},{"r":1,"x":0.225,"n":1.7},
{"r":1,"x":0.25,"n":1.9},{"r":1,"x":0.275,"n":2.1},{"r":1,"x":0.3,"n":2.3},{"r":1,"x":0.325,"n":2.6},{"r":1,"x":0.35,"n":2.9},{"r":1,"x":0.375,"n":3.2},{"r":1,"x":0.4,"n":3.6},{"r":1,"x":0.425,"n":4},{"r":1,"x":0.45,"n":4.4},{"r":1,"x":0.475,"n":4.9},
{"r":1,"x":0.5,"n":5.4},{"r":1,"x":0.525,"n":6},{"r":1,"x":0.55,"n":6.5},{"r":1,"x":0.575,"n":7.2},{"r":1,"x":0.6,"n":7.8},{"r":1,"x":0.625,"n":8.5},{"r":1,"x":0.65,"n":9.3},{"r":1,"x":0.675,"n":10.2},{"r":1,"x":0.7,"n":11},{"r":1,"x":0.725,"n":12},
{"r":1,"x":0.75,"n":12.5},{"r":1,"x":0.775,"n":14},{"r":1,"x":0.8,"n":14.5},{"r":1,"x":0.825,"n":17},{"r":1,"x":0.85,"n":17.5},{"r":1,"x":0.875,"n":20},{"r":1,"x":0.9,"n":21},{"r":1,"x":0.925,"n":24},{"r":1,"x":0.95,"n":25},{"r":1,"x":0.975,"n":29},
{"r":1,"x":1,"n":30},{"r":1,"x":1.025,"n":34},{"r":1,"x":1.05,"n":33},{"r":1,"x":1.075,"n":40},{"r":1,"x":1.1,"n":38},{"r":1,"x":1.125,"n":48},{"r":1,"x":1.15,"n":45},{"r":1,"x":1.175,"n":56},{"r":1,"x":1.2,"n":60},{"r":1,"x":1.225,"n":58},
{"r":1,"x":1.25,"n":70},{"r":1,"x":1.275,"n":66},{"r":1,"x":1.3,"n":85},{"r":1,"x":1.325,"n":78},{"r":1,"x":1.35,"n":108},{"r":1,"x":1.375,"n":100},{"r":1,"x":1.4,"n":140},{"r":1,"x":1.425,"n":178},{"r":1,"x":1.45,"n":165},{"r":1,"x":1.475,"n":215},{"r":1,"x":1.5,"n":178},
{"r":2,"x":0,"n":1},{"r":2,"x":0.025,"n":1},{"r":2,"x":0.05,"n":1.1},{"r":2,"x":0.075,"n":1.1},{"r":2,"x":0.1,"n":1.2},{"r":2,"x":0.125,"n":1.4},{"r":2,"x":0.15,"n":1.5},{"r":2,"x":0.175,"n":1.7},{"r":2,"x":0.2,"n":1.9},{"r":2,"x":0.225,"n":2.2},
{"r":2,"x":0.25,"n":2.5},{"r":2,"x":0.275,"n":2.8},{"r":2,"x":0.3,"n":3.1},{"r":2,"x":0.325,"n":3.5},{"r":2,"x":0.35,"n":4},{"r":2,"x":0.375,"n":4.4},{"r":2,"x":0.4,"n":4.9},{"r":2,"x":0.425,"n":5.5},{"r":2,"x":0.45,"n":6.1},{"r":2,"x":0.475,"n":6.7},
{"r":2,"x":0.5,"n":7.4},{"r":2,"x":0.525,"n":8.1},{"r":2,"x":0.55,"n":8.9},{"r":2,"x":0.575,"n":9.8},{"r":2,"x":0.6,"n":10.6},{"r":2,"x":0.625,"n":11.5},{"r":2,"x":0.65,"n":12.6},{"r":2,"x":0.675,"n":13.6},{"r":2,"x":0.7,"n":15},{"r":2,"x":0.725,"n":16},
{"r":2,"x":0.75,"n":17.5},{"r":2,"x":0.775,"n":18.5},{"r":2,"x":0.8,"n":20},{"r":2,"x":0.825,"n":22},{"r":2,"x":0.85,"n":24},{"r":2,"x":0.875,"n":25},{"r":2,"x":0.9,"n":28},{"r":2,"x":0.925,"n":30},{"r":2,"x":0.95,"n":32},{"r":2,"x":0.975,"n":38},
{"r":2,"x":1,"n":40},{"r":2,"x":1.025,"n":48},{"r":2,"x":1.05,"n":44},{"r":2,"x":1.075,"n":58},{"r":2,"x":1.1,"n":50},{"r":2,"x":1.125,"n":70},{"r":2,"x":1.15,"n":60},{"r":2,"x":1.175,"n":84},{"r":2,"x":1.2,"n":72},{"r":2,"x":1.225,"n":100},
{"r":2,"x":1.25,"n":86},{"r":2,"x":1.275,"n":120},{"r":2,"x":1.3,"n":102},{"r":2,"x":1.325,"n":145},{"r":2,"x":1.35,"n":122},{"r":2,"x":1.375,"n":175},{"r":2,"x":1.4,"n":150},{"r":2,"x":1.425,"n":205},{"r":2,"x":1.45,"n":180},{"r":2,"x":1.475,"n":230},{"r":2,"x":1.5,"n":245},
{"r":3,"x":0,"n":1},{"r":3,"x":0.025,"n":1},{"r":3,"x":0.05,"n":1.1},{"r":3,"x":0.075,"n":1.2},{"r":3,"x":0.1,"n":1.3},{"r":3,"x":0.125,"n":1.5},{"r":3,"x":0.15,"n":1.6},{"r":3,"x":0.175,"n":1.9},{"r":3,"x":0.2,"n":2.1},{"r":3,"x":0.225,"n":2.4},
{"r":3,"x":0.25,"n":2.8},{"r":3,"x":0.275,"n":3.1},{"r":3,"x":0.3,"n":3.6},{"r":3,"x":0.325,"n":4},{"r":3,"x":0.35,"n":4.6},{"r":3,"x":0.375,"n":5.1},{"r":3,"x":0.4,"n":5.7},{"r":3,"x":0.425,"n":6.4},{"r":3,"x":0.45,"n":7.1},{"r":3,"x":0.475,"n":7.9},
{"r":3,"x":0.5,"n":8.7},{"r":3,"x":0.525,"n":9.6},{"r":3,"x":0.55,"n":10.5},{"r":3,"x":0.575,"n":11.5},{"r":3,"x":0.6,"n":12.5},{"r":3,"x":0.625,"n":13.5},{"r":3,"x":0.65,"n":15},{"r":3,"x":0.675,"n":16},{"r":3,"x":0.7,"n":18},{"r":3,"x":0.725,"n":19},
{"r":3,"x":0.75,"n":21.5},{"r":3,"x":0.775,"n":22.5},{"r":3,"x":0.8,"n":25},{"r":3,"x":0.825,"n":27},{"r":3,"x":0.85,"n":30},{"r":3,"x":0.875,"n":32},{"r":3,"x":0.9,"n":35},{"r":3,"x":0.925,"n":38},{"r":3,"x":0.95,"n":42},{"r":3,"x":0.975,"n":46},
{"r":3,"x":1,"n":48},{"r":3,"x":1.025,"n":58},{"r":3,"x":1.05,"n":54},{"r":3,"x":1.075,"n":70},{"r":3,"x":1.1,"n":62},{"r":3,"x":1.125,"n":86},{"r":3,"x":1.15,"n":74},{"r":3,"x":1.175,"n":102},{"r":3,"x":1.2,"n":88},{"r":3,"x":1.225,"n":122},
{"r":3,"x":1.25,"n":104},{"r":3,"x":1.275,"n":145},{"r":3,"x":1.3,"n":124},{"r":3,"x":1.325,"n":175},{"r":3,"x":1.35,"n":150},{"r":3,"x":1.375,"n":215},{"r":3,"x":1.4,"n":180},{"r":3,"x":1.425,"n":255},{"r":3,"x":1.45,"n":225},{"r":3,"x":1.475,"n":290},{"r":3,"x":1.5,"n":320},
{"r":4,"x":0,"n":1},{"r":4,"x":0.025,"n":1.1},{"r":4,"x":0.05,"n":1.1},{"r":4,"x":0.075,"n":1.2},{"r":4,"x":0.1,"n":1.4},{"r":4,"x":0.125,"n":1.5},{"r":4,"x":0.15,"n":1.7},{"r":4,"x":0.175,"n":2},{"r":4,"x":0.2,"n":2.3},{"r":4,"x":0.225,"n":2.7},
{"r":4,"x":0.25,"n":3.1},{"r":4,"x":0.275,"n":3.5},{"r":4,"x":0.3,"n":4},{"r":4,"x":0.325,"n":4.5},{"r":4,"x":0.35,"n":5.1},{"r":4,"x":0.375,"n":5.7},{"r":4,"x":0.4,"n":6.4},{"r":4,"x":0.425,"n":7.2},{"r":4,"x":0.45,"n":8},{"r":4,"x":0.475,"n":8.9},
{"r":4,"x":0.5,"n":9.8},{"r":4,"x":0.525,"n":10.8},{"r":4,"x":0.55,"n":12},{"r":4,"x":0.575,"n":13},{"r":4,"x":0.6,"n":14.5},{"r":4,"x":0.625,"n":15.5},{"r":4,"x":0.65,"n":17.5},{"r":4,"x":0.675,"n":18.5},{"r":4,"x":0.7,"n":20.5},{"r":4,"x":0.725,"n":22},
{"r":4,"x":0.75,"n":24.5},{"r":4,"x":0.775,"n":26},{"r":4,"x":0.8,"n":28},{"r":4,"x":0.825,"n":32},{"r":4,"x":0.85,"n":33},{"r":4,"x":0.875,"n":38},{"r":4,"x":0.9,"n":39},{"r":4,"x":0.925,"n":46},{"r":4,"x":0.95,"n":47},{"r":4,"x":0.975,"n":55},
{"r":4,"x":1,"n":55},{"r":4,"x":1.025,"n":66},{"r":4,"x":1.05,"n":60},{"r":4,"x":1.075,"n":80},{"r":4,"x":1.1,"n":74},{"r":4,"x":1.125,"n":98},{"r":4,"x":1.15,"n":88},{"r":4,"x":1.175,"n":118},{"r":4,"x":1.2,"n":104},{"r":4,"x":1.225,"n":140},
{"r":4,"x":1.25,"n":122},{"r":4,"x":1.275,"n":168},{"r":4,"x":1.3,"n":145},{"r":4,"x":1.325,"n":200},{"r":4,"x":1.35,"n":172},{"r":4,"x":1.375,"n":240},{"r":4,"x":1.4,"n":205},{"r":4,"x":1.425,"n":285},{"r":4,"x":1.45,"n":250},{"r":4,"x":1.475,"n":330},{"r":4,"x":1.5,"n":380},
{"r":5,"x":0,"n":1},{"r":5,"x":0.025,"n":1.1},{"r":5,"x":0.05,"n":1.2},{"r":5,"x":0.075,"n":1.3},{"r":5,"x":0.1,"n":1.4},{"r":5,"x":0.125,"n":1.6},{"r":5,"x":0.15,"n":1.8},{"r":5,"x":0.175,"n":2.1},{"r":5,"x":0.2,"n":2.4},{"r":5,"x":0.225,"n":2.8},
{"r":5,"x":0.25,"n":3.2},{"r":5,"x":0.275,"n":3.7},{"r":5,"x":0.3,"n":4.2},{"r":5,"x":0.325,"n":4.8},{"r":5,"x":0.35,"n":5.4},{"r":5,"x":0.375,"n":6.1},{"r":5,"x":0.4,"n":6.9},{"r":5,"x":0.425,"n":7.7},{"r":5,"x":0.45,"n":8.6},{"r":5,"x":0.475,"n":9.5},
{"r":5,"x":0.5,"n":10.4},{"r":5,"x":0.525,"n":11.5},{"r":5,"x":0.55,"n":12.8},{"r":5,"x":0.575,"n":14},{"r":5,"x":0.6,"n":15.2},{"r":5,"x":0.625,"n":16.5},{"r":5,"x":0.65,"n":18.5},{"r":5,"x":0.675,"n":19.5},{"r":5,"x":0.7,"n":21.5},{"r":5,"x":0.725,"n":23},
{"r":5,"x":0.75,"n":26},{"r":5,"x":0.775,"n":27},{"r":5,"x":0.8,"n":30},{"r":5,"x":0.825,"n":33},{"r":5,"x":0.85,"n":36},{"r":5,"x":0.875,"n":40},{"r":5,"x":0.9,"n":44},{"r":5,"x":0.925,"n":48},{"r":5,"x":0.95,"n":52},{"r":5,"x":0.975,"n":60},
{"r":5,"x":1,"n":62},{"r":5,"x":1.025,"n":74},{"r":5,"x":1.05,"n":70},{"r":5,"x":1.075,"n":88},{"r":5,"x":1.1,"n":82},{"r":5,"x":1.125,"n":106},{"r":5,"x":1.15,"n":98},{"r":5,"x":1.175,"n":125},{"r":5,"x":1.2,"n":112},{"r":5,"x":1.225,"n":148},
{"r":5,"x":1.25,"n":135},{"r":5,"x":1.275,"n":175},{"r":5,"x":1.3,"n":160},{"r":5,"x":1.325,"n":210},{"r":5,"x":1.35,"n":190},{"r":5,"x":1.375,"n":250},{"r":5,"x":1.4,"n":225},{"r":5,"x":1.425,"n":290},{"r":5,"x":1.45,"n":262},{"r":5,"x":1.475,"n":300},{"r":5,"x":1.5,"n":325},
{"r":6,"x":0,"n":1},{"r":6,"x":0.025,"n":1.1},{"r":6,"x":0.05,"n":1.2},{"r":6,"x":0.075,"n":1.3},{"r":6,"x":0.1,"n":1.4},{"r":6,"x":0.125,"n":1.6},{"r":6,"x":0.15,"n":1.9},{"r":6,"x":0.175,"n":2.2},{"r":6,"x":0.2,"n":2.5},{"r":6,"x":0.225,"n":2.9},
{"r":6,"x":0.25,"n":3.4},{"r":6,"x":0.275,"n":3.9},{"r":6,"x":0.3,"n":4.5},{"r":6,"x":0.325,"n":5.1},{"r":6,"x":0.35,"n":5.8},{"r":6,"x":0.375,"n":6.5},{"r":6,"x":0.4,"n":7.3},{"r":6,"x":0.425,"n":8.2},{"r":6,"x":0.45,"n":9},{"r":6,"x":0.475,"n":10.2},
{"r":6,"x":0.5,"n":11},{"r":6,"x":0.525,"n":12.5},{"r":6,"x":0.55,"n":13},{"r":6,"x":0.575,"n":15},{"r":6,"x":0.6,"n":16},{"r":6,"x":0.625,"n":18.5},{"r":6,"x":0.65,"n":19},{"r":6,"x":0.675,"n":22},{"r":6,"x":0.7,"n":22.5},{"r":6,"x":0.725,"n":26},
{"r":6,"x":0.75,"n":26},{"r":6,"x":0.775,"n":31},{"r":6,"x":0.8,"n":32},{"r":6,"x":0.825,"n":37},{"r":6,"x":0.85,"n":38},{"r":6,"x":0.875,"n":45},{"r":6,"x":0.9,"n":46},{"r":6,"x":0.925,"n":54},{"r":6,"x":0.95,"n":57},{"r":6,"x":0.975,"n":66},
{"r":6,"x":1,"n":70},{"r":6,"x":1.025,"n":80},{"r":6,"x":1.05,"n":78},{"r":6,"x":1.075,"n":96},{"r":6,"x":1.1,"n":90},{"r":6,"x":1.125,"n":115},{"r":6,"x":1.15,"n":108},{"r":6,"x":1.175,"n":138},{"r":6,"x":1.2,"n":126},{"r":6,"x":1.225,"n":162},
{"r":6,"x":1.25,"n":150},{"r":6,"x":1.275,"n":188},{"r":6,"x":1.3,"n":176},{"r":6,"x":1.325,"n":225},{"r":6,"x":1.35,"n":210},{"r":6,"x":1.375,"n":262},{"r":6,"x":1.4,"n":240},{"r":6,"x":1.425,"n":310},{"r":6,"x":1.45,"n":290},{"r":6,"x":1.475,"n":348},{"r":6,"x":1.5,"n":350},
{"r":7,"x":0,"n":1},{"r":7,"x":0.025,"n":1.1},{"r":7,"x":0.05,"n":1.2},{"r":7,"x":0.075,"n":1.3},{"r":7,"x":0.1,"n":1.5},{"r":7,"x":0.125,"n":1.7},{"r":7,"x":0.15,"n":2},{"r":7,"x":0.175,"n":2.3},{"r":7,"x":0.2,"n":2.7},{"r":7,"x":0.225,"n":3.2},
{"r":7,"x":0.25,"n":3.7},{"r":7,"x":0.275,"n":4.3},{"r":7,"x":0.3,"n":4.9},{"r":7,"x":0.325,"n":5.6},{"r":7,"x":0.35,"n":6.4},{"r":7,"x":0.375,"n":7.2},{"r":7,"x":0.4,"n":8},{"r":7,"x":0.425,"n":9},{"r":7,"x":0.45,"n":10.2},{"r":7,"x":0.475,"n":11.5},
{"r":7,"x":0.5,"n":12.4},{"r":7,"x":0.525,"n":14},{"r":7,"x":0.55,"n":15},{"r":7,"x":0.575,"n":17},{"r":7,"x":0.6,"n":18.5},{"r":7,"x":0.625,"n":21},{"r":7,"x":0.65,"n":22},{"r":7,"x":0.675,"n":26},{"r":7,"x":0.7,"n":26},{"r":7,"x":0.725,"n":30},
{"r":7,"x":0.75,"n":30},{"r":7,"x":0.775,"n":36},{"r":7,"x":0.8,"n":38},{"r":7,"x":0.825,"n":40},{"r":7,"x":0.85,"n":47},{"r":7,"x":0.875,"n":48},{"r":7,"x":0.9,"n":55},{"r":7,"x":0.925,"n":56},{"r":7,"x":0.95,"n":66},{"r":7,"x":0.975,"n":71},
{"r":7,"x":1,"n":80},{"r":7,"x":1.025,"n":86},{"r":7,"x":1.05,"n":96},{"r":7,"x":1.075,"n":92},{"r":7,"x":1.1,"n":118},{"r":7,"x":1.125,"n":108},{"r":7,"x":1.15,"n":140},{"r":7,"x":1.175,"n":128},{"r":7,"x":1.2,"n":165},{"r":7,"x":1.225,"n":150},
{"r":7,"x":1.25,"n":192},{"r":7,"x":1.275,"n":178},{"r":7,"x":1.3,"n":230},{"r":7,"x":1.325,"n":262},{"r":7,"x":1.35,"n":215},{"r":7,"x":1.375,"n":300},{"r":7,"x":1.4,"n":340},{"r":7,"x":1.425,"n":300},{"r":7,"x":1.45,"n":390},{"r":7,"x":1.475,"n":405},{"r":7,"x":1.5,"n":440},
{"r":8,"x":0,"n":1},{"r":8,"x":0.025,"n":1.1},{"r":8,"x":0.05,"n":1.2},{"r":8,"x":0.075,"n":1.4},{"r":8,"x":0.1,"n":1.5},{"r":8,"x":0.125,"n":1.8},{"r":8,"x":0.15,"n":2.1},{"r":8,"x":0.175,"n":2.5},{"r":8,"x":0.2,"n":2.8},{"r":8,"x":0.225,"n":3.4},
{"r":8,"x":0.25,"n":4},{"r":8,"x":0.275,"n":4.5},{"r":8,"x":0.3,"n":5.2},{"r":8,"x":0.325,"n":5.9},{"r":8,"x":0.35,"n":6.8},{"r":8,"x":0.375,"n":7.6},{"r":8,"x":0.4,"n":8.6},{"r":8,"x":0.425,"n":9.6},{"r":8,"x":0.45,"n":11},{"r":8,"x":0.475,"n":12},
{"r":8,"x":0.5,"n":13.5},{"r":8,"x":0.525,"n":15},{"r":8,"x":0.55,"n":16},{"r":8,"x":0.575,"n":19},{"r":8,"x":0.6,"n":20},{"r":8,"x":0.625,"n":23},{"r":8,"x":0.65,"n":24},{"r":8,"x":0.675,"n":29},{"r":8,"x":0.7,"n":28},{"r":8,"x":0.725,"n":33},
{"r":8,"x":0.75,"n":33},{"r":8,"x":0.775,"n":40},{"r":8,"x":0.8,"n":39},{"r":8,"x":0.825,"n":46},{"r":8,"x":0.85,"n":49},{"r":8,"x":0.875,"n":53},{"r":8,"x":0.9,"n":60},{"r":8,"x":0.925,"n":66},{"r":8,"x":0.95,"n":72},{"r":8,"x":0.975,"n":84},
{"r":8,"x":1,"n":88},{"r":8,"x":1.025,"n":92},{"r":8,"x":1.05,"n":108},{"r":8,"x":1.075,"n":104},{"r":8,"x":1.1,"n":128},{"r":8,"x":1.125,"n":122},{"r":8,"x":1.15,"n":150},{"r":8,"x":1.175,"n":142},{"r":8,"x":1.2,"n":178},{"r":8,"x":1.225,"n":168},
{"r":8,"x":1.25,"n":205},{"r":8,"x":1.275,"n":215},{"r":8,"x":1.3,"n":232},{"r":8,"x":1.325,"n":268},{"r":8,"x":1.35,"n":255},{"r":8,"x":1.375,"n":310},{"r":8,"x":1.4,"n":298},{"r":8,"x":1.425,"n":372},{"r":8,"x":1.45,"n":345},{"r":8,"x":1.475,"n":430},{"r":8,"x":1.5,"n":451},
{"r":9,"x":0,"n":1},{"r":9,"x":0.025,"n":1.1},{"r":9,"x":0.05,"n":1.3},{"r":9,"x":0.075,"n":1.4},{"r":9,"x":0.1,"n":1.6},{"r":9,"x":0.125,"n":1.9},{"r":9,"x":0.15,"n":2.3},{"r":9,"x":0.175,"n":2.6},{"r":9,"x":0.2,"n":3},{"r":9,"x":0.225,"n":3.7},
{"r":9,"x":0.25,"n":4.3},{"r":9,"x":0.275,"n":4.9},{"r":9,"x":0.3,"n":5.5},{"r":9,"x":0.325,"n":6.5},{"r":9,"x":0.35,"n":7.2},{"r":9,"x":0.375,"n":8.4},{"r":9,"x":0.4,"n":9},{"r":9,"x":0.425,"n":10.5},{"r":9,"x":0.45,"n":11.6},{"r":9,"x":0.475,"n":13.4},
{"r":9,"x":0.5,"n":14},{"r":9,"x":0.525,"n":16.5},{"r":9,"x":0.55,"n":18},{"r":9,"x":0.575,"n":21},{"r":9,"x":0.6,"n":22},{"r":9,"x":0.625,"n":25},{"r":9,"x":0.65,"n":27},{"r":9,"x":0.675,"n":31},{"r":9,"x":0.7,"n":33},{"r":9,"x":0.725,"n":35},
{"r":9,"x":0.75,"n":40},{"r":9,"x":0.775,"n":41},{"r":9,"x":0.8,"n":48},{"r":9,"x":0.825,"n":50},{"r":9,"x":0.85,"n":57},{"r":9,"x":0.875,"n":59},{"r":9,"x":0.9,"n":68},{"r":9,"x":0.925,"n":70},{"r":9,"x":0.95,"n":84},{"r":9,"x":0.975,"n":88},
{"r":9,"x":1,"n":97},{"r":9,"x":1.025,"n":112},{"r":9,"x":1.05,"n":110},{"r":9,"x":1.075,"n":135},{"r":9,"x":1.1,"n":130},{"r":9,"x":1.125,"n":160},{"r":9,"x":1.15,"n":158},{"r":9,"x":1.175,"n":190},{"r":9,"x":1.2,"n":200},{"r":9,"x":1.225,"n":245},
{"r":9,"x":1.25,"n":235},{"r":9,"x":1.275,"n":290},{"r":9,"x":1.3,"n":280},{"r":9,"x":1.325,"n":330},{"r":9,"x":1.35,"n":350},{"r":9,"x":1.375,"n":315},{"r":9,"x":1.4,"n":395},{"r":9,"x":1.425,"n":471},{"r":9,"x":1.45,"n":405},{"r":9,"x":1.475,"n":524},{"r":9,"x":1.5,"n":493}
]
},
"resolve":{"scale":{"x":"independent","y":"independent","color":"independent"},"legend":{"color":"independent"}},
"hconcat":[
{
"width":1067,"height":1040,
"layer":[
{
"data":{"name":"left"},
"mark":{"type":"line","strokeWidth":5.5,"strokeJoin":"round","strokeCap":"square"},
"encoding":{
"x":{"field":"x","type":"quantitative","scale":{"domain":[-0.075,1.575],"nice":false,"zero":false},"axis":{"orient":"bottom","values":[0,0.2,0.4,0.6,0.8,1,1.2,1.4],"format":".1f","title":"λ"}},
"y":{"field":"n","type":"quantitative","scale":{"domain":[-12.2,278.2],"nice":false,"zero":false},"axis":{"orient":"left","values":[0,50,100,150,200,250],"title":"N_I"}},
"color":{"field":"r","type":"ordinal","scale":{"domain":[1,2,3,4,5,6,7,8,9,10,11,12,13,14,15],"range":["rgba(0,0,255,0.0667)","rgba(0,0,255,0.1333)","rgba(0,0,255,0.2)","rgba(0,0,255,0.2667)","rgba(0,0,255,0.3333)","rgba(0,0,255,0.4)","rgba(0,0,255,0.4667)","rgba(0,0,255,0.5333)","rgba(0,0,255,0.6)","rgba(0,0,255,0.6667)","rgba(0,0,255,0.7333)","rgba(0,0,255,0.8)","rgba(0,0,255,0.8667)","rgba(0,0,255,0.9333)","rgba(0,0,255,1)"]},
"legend":{"orient":"none","legendX":105,"legendY":37,"title":null,"symbolType":"stroke","symbolSize":3249,"symbolStrokeWidth":5,"clipHeight":38,"rowPadding":0.3,"labelFontSize":25,"labelFont":"DejaVu Sans","labelColor":"#000000","labelOffset":19,"padding":7,"fillColor":"rgba(255,255,255,0.8)","strokeColor":"#dddddd","cornerRadius":5}}
}
},
{
"data":{"values":[{"x":0,"n":0}]},
"mark":{"type":"point","opacity":0},
"encoding":{
"x":{"field":"x","type":"quantitative","axis":{"orient":"top","labels":false,"ticks":false,"title":null}},
"y":{"field":"n","type":"quantitative","axis":{"orient":"right","labels":false,"ticks":false,"title":null}}
}
}
],
"resolve":{"axis":{"x":"independent","y":"independent"}}
},
{
"width":1068,"height":1040,
"layer":[
{
"data":{"name":"right"},
"mark":{"type":"line","strokeWidth":5.5,"strokeJoin":"round","strokeCap":"square"},
"encoding":{
"x":{"field":"x","type":"quantitative","scale":{"domain":[0,1.5],"nice":false,"zero":false},"axis":{"orient":"bottom","values":[0,0.2,0.4,0.6,0.8,1,1.2,1.4],"format":".1f","title":"λ"}},
"y":{"field":"n","type":"quantitative","scale":{"domain":[-25.2,550.2],"nice":false,"zero":false},"axis":{"orient":"left","values":[0,100,200,300,400,500],"title":"N_I"}},
"color":{"field":"r","type":"ordinal","scale":{"domain":[1,2,3,4,5,6,7,8,9],"range":["rgba(255,0,0,0.111)","rgba(255,0,0,0.222)","rgba(255,0,0,0.333)","rgba(255,0,0,0.444)","rgba(255,0,0,0.556)","rgba(255,0,0,0.667)","rgba(255,0,0,0.778)","rgba(255,0,0,0.889)","rgba(255,0,0,1)"]},
"legend":{"orient":"none","legendX":107,"legendY":163,"title":null,"symbolType":"stroke","symbolSize":3249,"symbolStrokeWidth":5,"clipHeight":38,"rowPadding":0.3,"labelFontSize":25,"labelFont":"DejaVu Sans","labelColor":"#000000","labelOffset":19,"padding":7,"fillColor":"rgba(255,255,255,0.8)","strokeColor":"#dddddd","cornerRadius":5}}
}
},
{
"data":{"values":[{"x":0,"n":0}]},
"mark":{"type":"point","opacity":0},
"encoding":{
"x":{"field":"x","type":"quantitative","axis":{"orient":"top","labels":false,"ticks":false,"title":null}},
"y":{"field":"n","type":"quantitative","axis":{"orient":"right","labels":false,"ticks":false,"title":null}}
}
}
],
"resolve":{"axis":{"x":"independent","y":"independent"}}
}
]
}
